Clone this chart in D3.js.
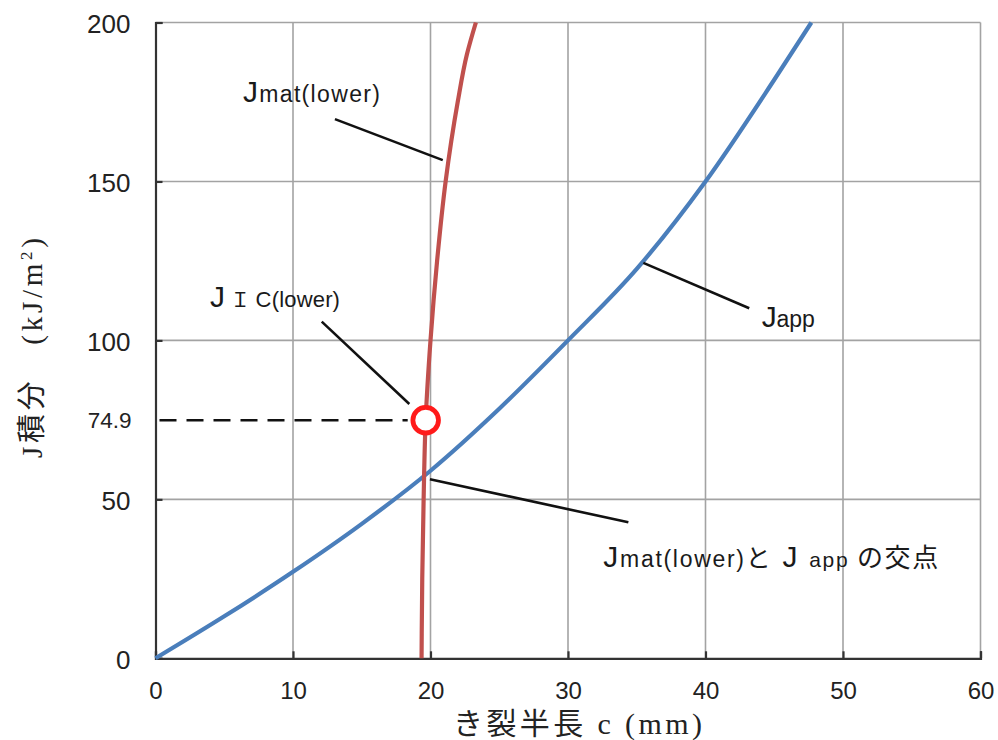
<!DOCTYPE html>
<html><head><meta charset="utf-8">
<script src="https://cdn.jsdelivr.net/npm/d3@7"></script>
<style>
html,body{margin:0;padding:0;background:#fff;}
svg{display:block;}
</style></head>
<body>
<svg id="chart" width="998" height="740"></svg>
<script>
// ---- data ----
const xTicks = [0, 10, 20, 30, 40, 50, 60];
const yTicks = [0, 50, 100, 150, 200];
// J_app curve: [crack half length c (mm), J (kJ/m2)]
const jappC = [0, 5, 10, 15, 20, 25, 30, 35, 40, 45, 47.7];
const jappJ = [0, 13.2, 27.2, 42.3, 59, 78.5, 100, 122.5, 150, 182, 200];
// J_mat(lower) curve
const jmatC = [19.35, 19.4, 19.5, 19.65, 20.0, 20.48, 21.1, 21.98, 22.65, 23.3];
const jmatJ = [0, 25, 50, 75, 100, 125, 150, 175, 190, 200];
// J_IC(lower) point
const jicC = [19.65];
const jicJ = [74.9];
const jicLabel = ["74.9"];

const svg = d3.select("#chart");
const x = d3.scaleLinear().domain([0, 60]).range([155.5, 980.5]);
const y = d3.scaleLinear().domain([0, 200]).range([658.3, 22.5]);

const gridCol = "#a3a3a3", axisCol = "#333";
const sans = "'Liberation Sans', Arial, 'Noto Sans CJK JP', sans-serif";
const jsans = "'Noto Sans CJK JP', 'Liberation Sans', sans-serif";
const serif = "'Liberation Serif', 'DejaVu Serif', 'Noto Sans CJK JP', serif";

// grid
const g = svg.append("g");
g.selectAll(".vg").data(xTicks.slice(1)).join("line")
  .attr("x1", d => x(d)).attr("x2", d => x(d))
  .attr("y1", y(0)).attr("y2", y(200))
  .attr("stroke", gridCol).attr("stroke-width", 1.6);
g.selectAll(".hg").data(yTicks.slice(1)).join("line")
  .attr("x1", x(0)).attr("x2", x(60))
  .attr("y1", d => y(d)).attr("y2", d => y(d))
  .attr("stroke", gridCol).attr("stroke-width", 1.6);

// axes
const xAxis = d3.axisBottom(x).tickValues(xTicks).tickSize(-7).tickPadding(24).tickFormat(d3.format("d"));
const yAxis = d3.axisLeft(y).tickValues(yTicks).tickSize(-7).tickPadding(25).tickFormat(d3.format("d"));
const gx = svg.append("g").attr("transform", `translate(0,${y(0)})`).call(xAxis);
const gy = svg.append("g").attr("transform", `translate(${x(0)},0)`).call(yAxis);
[gx, gy].forEach(a => {
  a.select(".domain").attr("stroke", axisCol).attr("stroke-width", 2.2);
  a.selectAll(".tick line").attr("stroke", axisCol).attr("stroke-width", 2.2);
  a.selectAll(".tick text").attr("fill", "#222").style("font-family", sans);
});
gx.selectAll(".tick text").style("font-size", "24px");
gy.selectAll(".tick text").style("font-size", "26px").attr("dy", "0.4em");

// special y label 74.9
svg.selectAll(".jicl").data(jicJ).join("text")
  .attr("x", x(0) - 24).attr("y", d => y(d)).attr("dy", "0.36em")
  .attr("text-anchor", "end").attr("fill", "#222")
  .style("font-family", sans).style("font-size", "22.5px")
  .text((d, i) => jicLabel[i]);

// dashed line to J_IC
svg.selectAll(".dash").data(jicJ).join("line")
  .attr("x1", x(0) + 4).attr("x2", (d, i) => x(jicC[i]) - 18)
  .attr("y1", d => y(d)).attr("y2", d => y(d))
  .attr("stroke", "#111").attr("stroke-width", 2.6).attr("stroke-dasharray", "17,10");

// curves
const jmatPts = jmatC.map((c, i) => [c, jmatJ[i]]);
const jappPts = jappC.map((c, i) => [c, jappJ[i]]);
const lineApp = d3.line().x(d => x(d[0])).y(d => y(d[1])).curve(d3.curveMonotoneX);
const lineMat = d3.line().x(d => x(d[0])).y(d => y(d[1])).curve(d3.curveMonotoneY);
svg.append("path").datum(jappPts).attr("d", lineApp)
  .attr("fill", "none").attr("stroke", "#4a7ebb").attr("stroke-width", 4.2);
svg.append("path").datum(jmatPts).attr("d", lineMat)
  .attr("fill", "none").attr("stroke", "#c0504d").attr("stroke-width", 4.2);

// J_IC circle
svg.selectAll(".jic").data(jicJ).join("circle")
  .attr("cx", (d, i) => x(jicC[i])).attr("cy", d => y(d)).attr("r", 12.8)
  .attr("fill", "#fff").attr("stroke", "#ff1a1a").attr("stroke-width", 4.8);

// leader lines (data coords)
const leaders = [
  [[13.05, 169.6], [20.89, 156.7]],
  [[12.09, 105.9], [18.46, 80.0]],
  [[35.48, 124.4], [43.18, 110.1]],
  [[19.96, 56.3], [34.39, 42.8]]
];
svg.selectAll(".leader").data(leaders).join("line")
  .attr("x1", d => x(d[0][0])).attr("y1", d => y(d[0][1]))
  .attr("x2", d => x(d[1][0])).attr("y2", d => y(d[1][1]))
  .attr("stroke", "#111").attr("stroke-width", 2.6);

// annotation labels
function label(cx, cy, parts, len) {
  const t = svg.append("text").attr("x", x(cx)).attr("y", y(cy)).attr("fill", "#1a1a1a")
    .attr("textLength", len).attr("lengthAdjust", "spacing");
  parts.forEach(p => t.append("tspan").style("font-family", p[2] || sans).style("font-size", p[1] + "px").text(p[0]));
  return t;
}
label(6.36, 175.0, [["J", 30], ["mat(lower)", 23]], 137);
label(3.96, 110.5, [["J", 30], [" Ｉ ", 20, serif], ["C(lower)", 22]], 130);
label(44.09, 104.2, [["J", 30], ["app", 23]], 53);
label(32.57, 28.7, [["J", 30], ["mat(lower)", 23], ["と", 25, jsans], [" J ", 30], ["app", 21], [" の交点", 26, jsans]], 335);

// axis titles
const xt = svg.append("text").attr("x", 453).attr("y", 734).attr("fill", "#222")
  .attr("textLength", 249).attr("lengthAdjust", "spacing")
  .style("font-family", serif).style("font-size", "30px");
xt.append("tspan").text("き裂半長 c (mm)");

const yt = svg.append("text").attr("transform", "translate(42,348) rotate(-90)")
  .attr("text-anchor", "middle").attr("fill", "#222")
  .attr("textLength", 220).attr("lengthAdjust", "spacing")
  .style("font-family", serif).style("font-size", "29px");
yt.append("tspan").text("J積分　(kJ/m");
yt.append("tspan").attr("dy", -10).style("font-size", "17px").text("2");
yt.append("tspan").attr("dy", 10).text(")");
</script>
</body></html>
